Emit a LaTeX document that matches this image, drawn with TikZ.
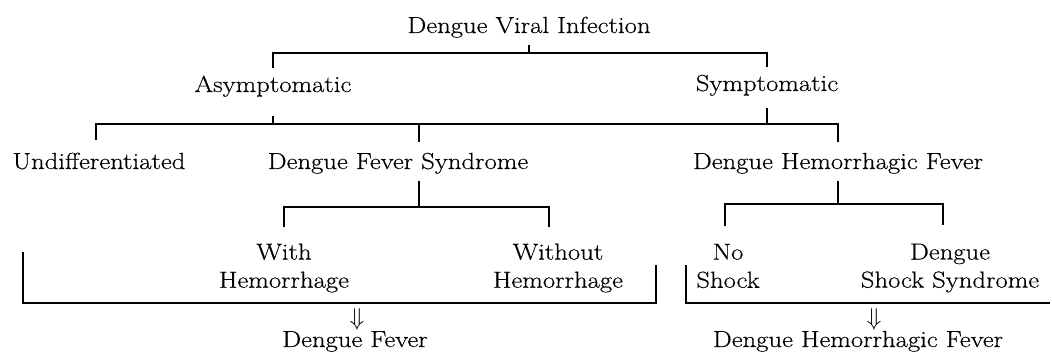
\documentclass[tikz,border=0pt]{standalone}
\usepackage{fontspec}
\setmainfont{Latin Modern Roman}[FakeStretch=1.15, FakeBold=0.4]
\begin{document}
\begin{tikzpicture}[x=0.025cm, y=-0.025cm, line width=0.9pt,
  lbl/.style={font=\fontsize{16.5}{20}\selectfont, inner xsep=2pt, inner ysep=5pt, align=center}]

  \useasboundingbox (0,0) rectangle (1052,353);

  % --- level 0 ---
  \node[lbl, anchor=base] (root) at (529,33) {Dengue Viral Infection};

  % --- level 1 ---
  \node[lbl, anchor=base] (asym) at (273,92) {Asymptomatic};
  \node[lbl, anchor=base] (sym) at (767,91) {Symptomatic};

  % --- level 2 ---
  \node[lbl, anchor=base] (undiff) at (99,169) {Undifferentiated};
  \node[lbl, anchor=base] (dfs) at (398,169) {Dengue Fever Syndrome};
  \node[lbl, anchor=base] (dhf) at (838,169) {Dengue Hemorrhagic Fever};

  % --- level 3 ---
  \node[lbl] (withhem) at (284,268) {With\\Hemorrhage};
  \node[lbl] (withouthem) at (558,268) {Without\\Hemorrhage};
  \node[lbl] (noshock) at (728,266) {No\\Shock};
  \node[lbl] (dss) at (950,268) {Dengue\\Shock Syndrome};

  % --- root -> level 1 ---
  \coordinate (b1) at (0,53);
  \draw (root.south) -- (root.south |- b1);
  \draw (asym.north) -- (asym.north |- b1) -- (sym.north |- b1) -- (sym.north);

  % --- level 1 -> level 2 ---
  \coordinate (b2) at (0,124);
  \coordinate (dfsx) at (419,0);
  \draw[shorten <=8pt] (asym.south) -- (asym.south |- b2);
  \draw[shorten <=3pt] (sym.south) -- (sym.south |- b2);
  \draw[shorten <=3.5pt, shorten >=2.5pt] (undiff.north -| 96,0) -- (b2 -| 96,0) -- (dhf.north |- b2) -- (dhf.north);
  \draw[shorten <=2.5pt] (dfs.north -| dfsx) -- (dfsx |- b2);

  % --- DFS -> with / without ---
  \coordinate (b3) at (0,207);
  \coordinate (withoutx) at (549,0);
  \draw (dfs.south -| dfsx) -- (dfsx |- b3);
  \draw[shorten <=6pt, shorten >=6pt] (withhem.north) -- (withhem.north |- b3) -- (b3 -| withoutx) -- (withouthem.north -| withoutx);

  % --- DHF -> no shock / DSS ---
  \coordinate (b4) at (0,204);
  \coordinate (dssx) at (943,0);
  \draw (dhf.south) -- (dhf.south |- b4);
  \draw[shorten <=7pt, shorten >=8pt] (noshock.north -| 725,0) -- (b4 -| 725,0) -- (b4 -| dssx) -- (dss.north -| dssx);

  % --- grouping brackets ---
  \draw (23,252) |- (656,303) -- (656,265);
  \draw (686,265) |- (1050,303);

  % --- results ---
  \node[lbl] (dfarr) at (357,319) {$\Downarrow$};
  \node[lbl, anchor=base] (df) at (355,347) {Dengue Fever};
  \node[lbl] (dhfarr) at (874,319) {$\Downarrow$};
  \node[lbl, anchor=base] (dhfres) at (858,347) {Dengue Hemorrhagic Fever};

\end{tikzpicture}
\end{document}
